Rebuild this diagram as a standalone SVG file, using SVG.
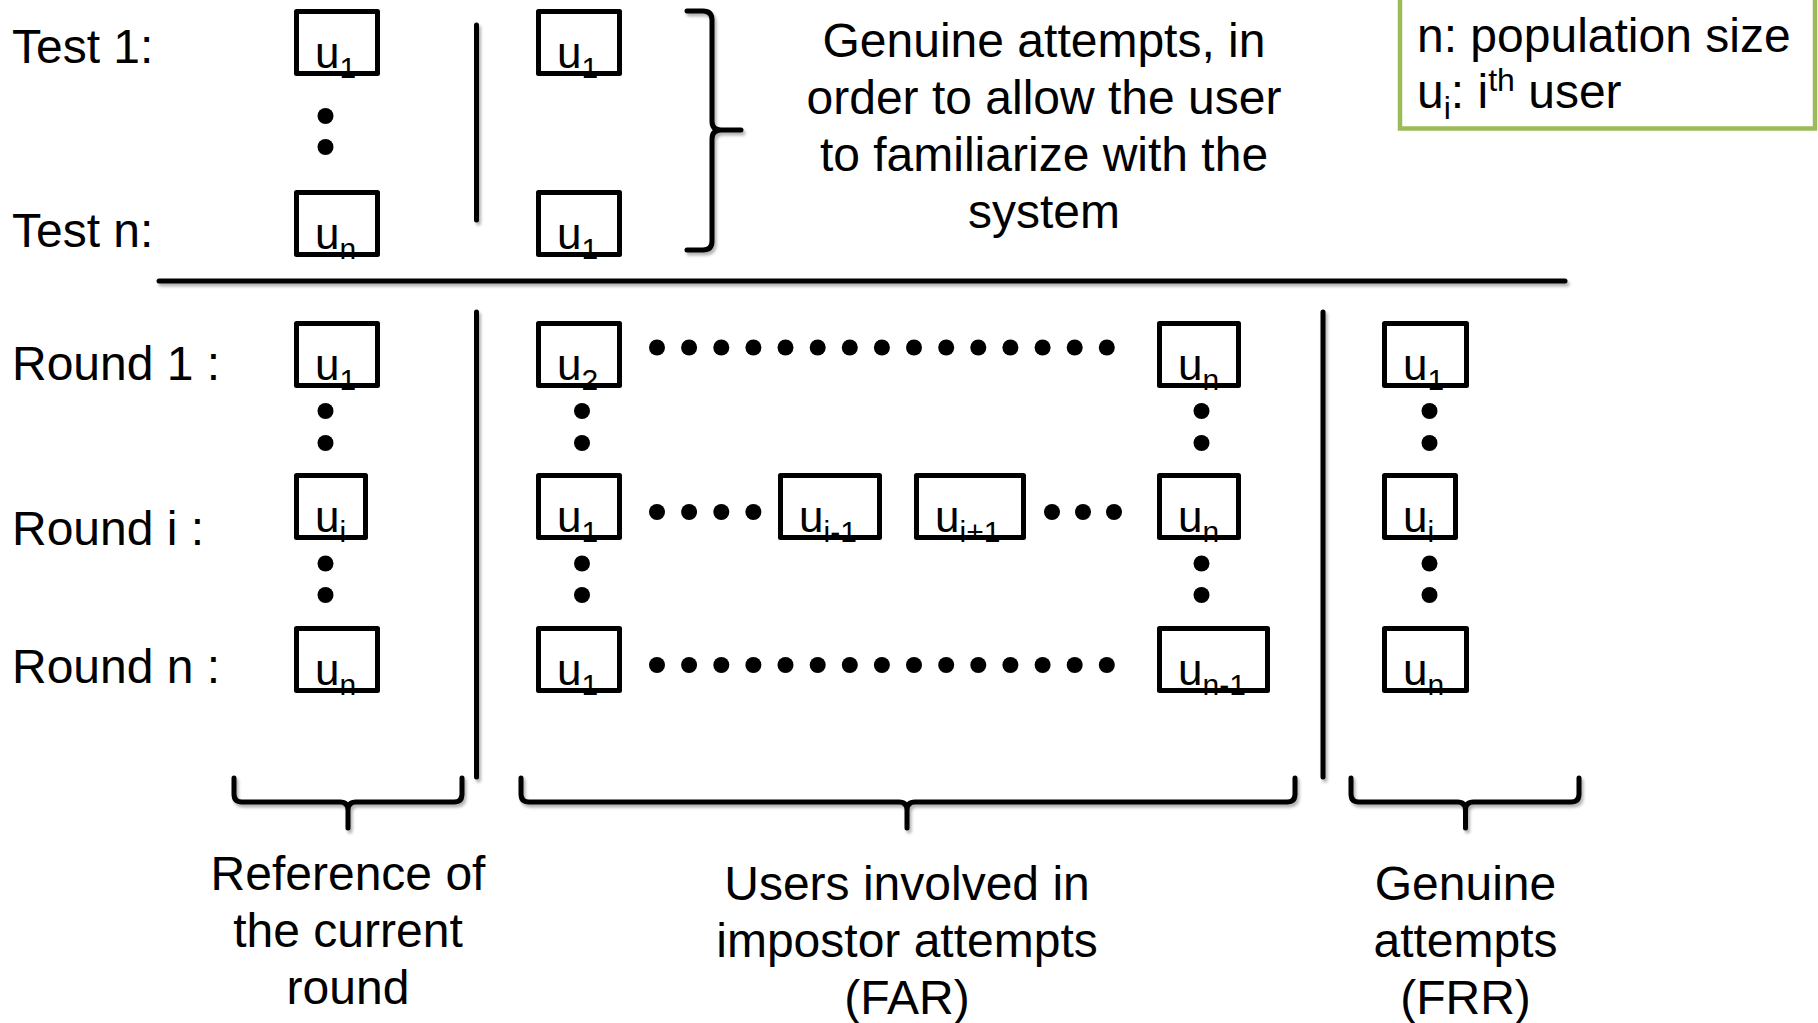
<svg xmlns="http://www.w3.org/2000/svg" width="1818" height="1023" viewBox="0 0 1818 1023">
<defs>
<style>
text{font-family:"Liberation Sans",Arial,Helvetica,sans-serif;fill:#000}
.lbl{font-size:48px}
.ctr{font-size:48px;text-anchor:middle}
.u{font-size:44px}
.sub{font-size:30px}
.box rect{fill:#fff;stroke:#000;stroke-width:5;stroke-linejoin:round}
.dot{fill:#000}
.ln{stroke:#000;stroke-width:5;fill:none;stroke-linecap:round;stroke-linejoin:round}
.legend{fill:#fff;stroke:#9bbb59;stroke-width:4.5}
</style>
<filter id="sh" filterUnits="userSpaceOnUse" x="0" y="0" width="1818" height="1023">
<feDropShadow dx="2" dy="3" stdDeviation="1.6" flood-color="#000" flood-opacity="0.3"/>
</filter>
</defs>
<rect width="1818" height="1023" fill="#fff"/>

<!-- connectors / dividers -->
<g id="connectors" filter="url(#sh)">
<line class="ln" x1="159" y1="281" x2="1565" y2="281"/>
<line class="ln" x1="476.5" y1="25" x2="476.5" y2="220"/>
<line class="ln" x1="476.5" y1="312" x2="476.5" y2="777"/>
<line class="ln" x1="1323" y1="312" x2="1323" y2="777"/>
<path class="ln" d="M687,11 H703 Q712,11 712,20 V121 Q712,130 721,130 H741 M721,130 Q712,130 712,139 V241 Q712,250 703,250 H687"/>
<path class="ln" d="M234,778 V794 Q234,802 242,802 H340 Q348,802 348,810 V828 M348,810 Q348,802 356,802 H454 Q462,802 462,794 V778"/>
<path class="ln" d="M521,778 V794 Q521,802 529,802 H899 Q907,802 907,810 V828 M907,810 Q907,802 915,802 H1287 Q1295,802 1295,794 V778"/>
<path class="ln" d="M1351,778 V794 Q1351,802 1359,802 H1457.5 Q1465.5,802 1465.5,810 V828 M1465.5,810 Q1465.5,802 1473.5,802 H1571 Q1579,802 1579,794 V778"/>
</g>

<!-- row labels -->
<g id="label-test1"><text class="lbl" x="12" y="63">Test 1:</text></g>
<g id="label-testn"><text class="lbl" x="12" y="247">Test n:</text></g>
<g id="label-round1"><text class="lbl" x="12" y="380">Round 1 :</text></g>
<g id="label-roundi"><text class="lbl" x="12" y="545">Round i :</text></g>
<g id="label-roundn"><text class="lbl" x="12" y="683">Round n :</text></g>

<!-- test boxes -->
<g id="t1c1" class="box" transform="translate(294,9)"><rect x="2.5" y="2.5" width="81" height="62"/><text class="u" x="21" y="59">u<tspan class="sub" dy="10">1</tspan></text></g>
<g id="t1c2" class="box" transform="translate(536,9)"><rect x="2.5" y="2.5" width="81" height="62"/><text class="u" x="21" y="59">u<tspan class="sub" dy="10">1</tspan></text></g>
<g id="tnc1" class="box" transform="translate(294,190)"><rect x="2.5" y="2.5" width="81" height="62"/><text class="u" x="21" y="59">u<tspan class="sub" dy="10">n</tspan></text></g>
<g id="tnc2" class="box" transform="translate(536,190)"><rect x="2.5" y="2.5" width="81" height="62"/><text class="u" x="21" y="59">u<tspan class="sub" dy="10">1</tspan></text></g>

<!-- round 1 -->
<g id="r1c1" class="box" transform="translate(294,321)"><rect x="2.5" y="2.5" width="81" height="62"/><text class="u" x="21" y="59">u<tspan class="sub" dy="10">1</tspan></text></g>
<g id="r1c2" class="box" transform="translate(536,321)"><rect x="2.5" y="2.5" width="81" height="62"/><text class="u" x="21" y="59">u<tspan class="sub" dy="10">2</tspan></text></g>
<g id="r1c3" class="box" transform="translate(1157,321)"><rect x="2.5" y="2.5" width="79" height="62"/><text class="u" x="21" y="59">u<tspan class="sub" dy="10">n</tspan></text></g>
<g id="r1c4" class="box" transform="translate(1382,321)"><rect x="2.5" y="2.5" width="82" height="62"/><text class="u" x="21" y="59">u<tspan class="sub" dy="10">1</tspan></text></g>

<!-- round i -->
<g id="ric1" class="box" transform="translate(294,473)"><rect x="2.5" y="2.5" width="69" height="62"/><text class="u" x="21" y="59">u<tspan class="sub" dy="10">i</tspan></text></g>
<g id="ric2" class="box" transform="translate(536,473)"><rect x="2.5" y="2.5" width="81" height="62"/><text class="u" x="21" y="59">u<tspan class="sub" dy="10">1</tspan></text></g>
<g id="ri-im1" class="box" transform="translate(778,473)"><rect x="2.5" y="2.5" width="99" height="62"/><text class="u" x="21" y="59">u<tspan class="sub" dy="10">i-1</tspan></text></g>
<g id="ri-ip1" class="box" transform="translate(914,473)"><rect x="2.5" y="2.5" width="107" height="62"/><text class="u" x="21" y="59">u<tspan class="sub" dy="10">i+1</tspan></text></g>
<g id="ric3" class="box" transform="translate(1157,473)"><rect x="2.5" y="2.5" width="79" height="62"/><text class="u" x="21" y="59">u<tspan class="sub" dy="10">n</tspan></text></g>
<g id="ric4" class="box" transform="translate(1382,473)"><rect x="2.5" y="2.5" width="71" height="62"/><text class="u" x="21" y="59">u<tspan class="sub" dy="10">i</tspan></text></g>

<!-- round n -->
<g id="rnc1" class="box" transform="translate(294,626)"><rect x="2.5" y="2.5" width="81" height="62"/><text class="u" x="21" y="59">u<tspan class="sub" dy="10">n</tspan></text></g>
<g id="rnc2" class="box" transform="translate(536,626)"><rect x="2.5" y="2.5" width="81" height="62"/><text class="u" x="21" y="59">u<tspan class="sub" dy="10">1</tspan></text></g>
<g id="rnc3" class="box" transform="translate(1157,626)"><rect x="2.5" y="2.5" width="108" height="62"/><text class="u" x="21" y="59">u<tspan class="sub" dy="10">n-1</tspan></text></g>
<g id="rnc4" class="box" transform="translate(1382,626)"><rect x="2.5" y="2.5" width="82" height="62"/><text class="u" x="21" y="59">u<tspan class="sub" dy="10">n</tspan></text></g>

<!-- ellipsis dots -->
<g id="dots">
<circle class="dot" cx="325.5" cy="116" r="8"/><circle class="dot" cx="325.5" cy="147" r="8"/>
<circle class="dot" cx="325.5" cy="411" r="8"/><circle class="dot" cx="325.5" cy="443" r="8"/>
<circle class="dot" cx="325.5" cy="563.5" r="8"/><circle class="dot" cx="325.5" cy="595" r="8"/>
<circle class="dot" cx="582" cy="411" r="8"/><circle class="dot" cx="582" cy="443" r="8"/>
<circle class="dot" cx="582" cy="563.5" r="8"/><circle class="dot" cx="582" cy="595" r="8"/>
<circle class="dot" cx="1201.5" cy="411" r="8"/><circle class="dot" cx="1201.5" cy="443" r="8"/>
<circle class="dot" cx="1201.5" cy="563.5" r="8"/><circle class="dot" cx="1201.5" cy="595" r="8"/>
<circle class="dot" cx="1429.5" cy="411" r="8"/><circle class="dot" cx="1429.5" cy="443" r="8"/>
<circle class="dot" cx="1429.5" cy="563.5" r="8"/><circle class="dot" cx="1429.5" cy="595" r="8"/>
<circle class="dot" cx="657" cy="347.5" r="8"/><circle class="dot" cx="689.1" cy="347.5" r="8"/><circle class="dot" cx="721.3" cy="347.5" r="8"/><circle class="dot" cx="753.4" cy="347.5" r="8"/><circle class="dot" cx="785.5" cy="347.5" r="8"/><circle class="dot" cx="817.7" cy="347.5" r="8"/><circle class="dot" cx="849.8" cy="347.5" r="8"/><circle class="dot" cx="881.9" cy="347.5" r="8"/><circle class="dot" cx="914" cy="347.5" r="8"/><circle class="dot" cx="946.2" cy="347.5" r="8"/><circle class="dot" cx="978.3" cy="347.5" r="8"/><circle class="dot" cx="1010.4" cy="347.5" r="8"/><circle class="dot" cx="1042.6" cy="347.5" r="8"/><circle class="dot" cx="1074.7" cy="347.5" r="8"/><circle class="dot" cx="1106.8" cy="347.5" r="8"/>
<circle class="dot" cx="657" cy="665" r="8"/><circle class="dot" cx="689.1" cy="665" r="8"/><circle class="dot" cx="721.3" cy="665" r="8"/><circle class="dot" cx="753.4" cy="665" r="8"/><circle class="dot" cx="785.5" cy="665" r="8"/><circle class="dot" cx="817.7" cy="665" r="8"/><circle class="dot" cx="849.8" cy="665" r="8"/><circle class="dot" cx="881.9" cy="665" r="8"/><circle class="dot" cx="914" cy="665" r="8"/><circle class="dot" cx="946.2" cy="665" r="8"/><circle class="dot" cx="978.3" cy="665" r="8"/><circle class="dot" cx="1010.4" cy="665" r="8"/><circle class="dot" cx="1042.6" cy="665" r="8"/><circle class="dot" cx="1074.7" cy="665" r="8"/><circle class="dot" cx="1106.8" cy="665" r="8"/>
<circle class="dot" cx="657" cy="512" r="8"/><circle class="dot" cx="689.1" cy="512" r="8"/><circle class="dot" cx="721.3" cy="512" r="8"/><circle class="dot" cx="753.4" cy="512" r="8"/>
<circle class="dot" cx="1052" cy="512" r="8"/><circle class="dot" cx="1083" cy="512" r="8"/><circle class="dot" cx="1114" cy="512" r="8"/>
</g>

<!-- top annotation -->
<g id="note-genuine-training">
<text class="ctr" x="1044" y="57">Genuine attempts, in</text>
<text class="ctr" x="1044" y="114">order to allow the user</text>
<text class="ctr" x="1044" y="171">to familiarize with the</text>
<text class="ctr" x="1044" y="228">system</text>
</g>

<!-- legend -->
<g id="legend">
<rect class="legend" x="1400" y="-10" width="415" height="138.5"/>
<text class="lbl" x="1417" y="52">n: population size</text>
<text class="lbl" x="1417" y="108">u<tspan font-size="32" dy="11">i</tspan><tspan dy="-11">: i</tspan><tspan font-size="32" dy="-17">th</tspan><tspan dy="17"> user</tspan></text>
</g>

<!-- bottom annotations -->
<g id="note-reference">
<text class="ctr" x="348" y="890">Reference of</text>
<text class="ctr" x="348" y="947">the current</text>
<text class="ctr" x="348" y="1004">round</text>
</g>
<g id="note-impostor">
<text class="ctr" x="907" y="900">Users involved in</text>
<text class="ctr" x="907" y="957">impostor attempts</text>
<text class="ctr" x="907" y="1014">(FAR)</text>
</g>
<g id="note-genuine">
<text class="ctr" x="1465.5" y="900">Genuine</text>
<text class="ctr" x="1465.5" y="957">attempts</text>
<text class="ctr" x="1465.5" y="1014">(FRR)</text>
</g>
</svg>
